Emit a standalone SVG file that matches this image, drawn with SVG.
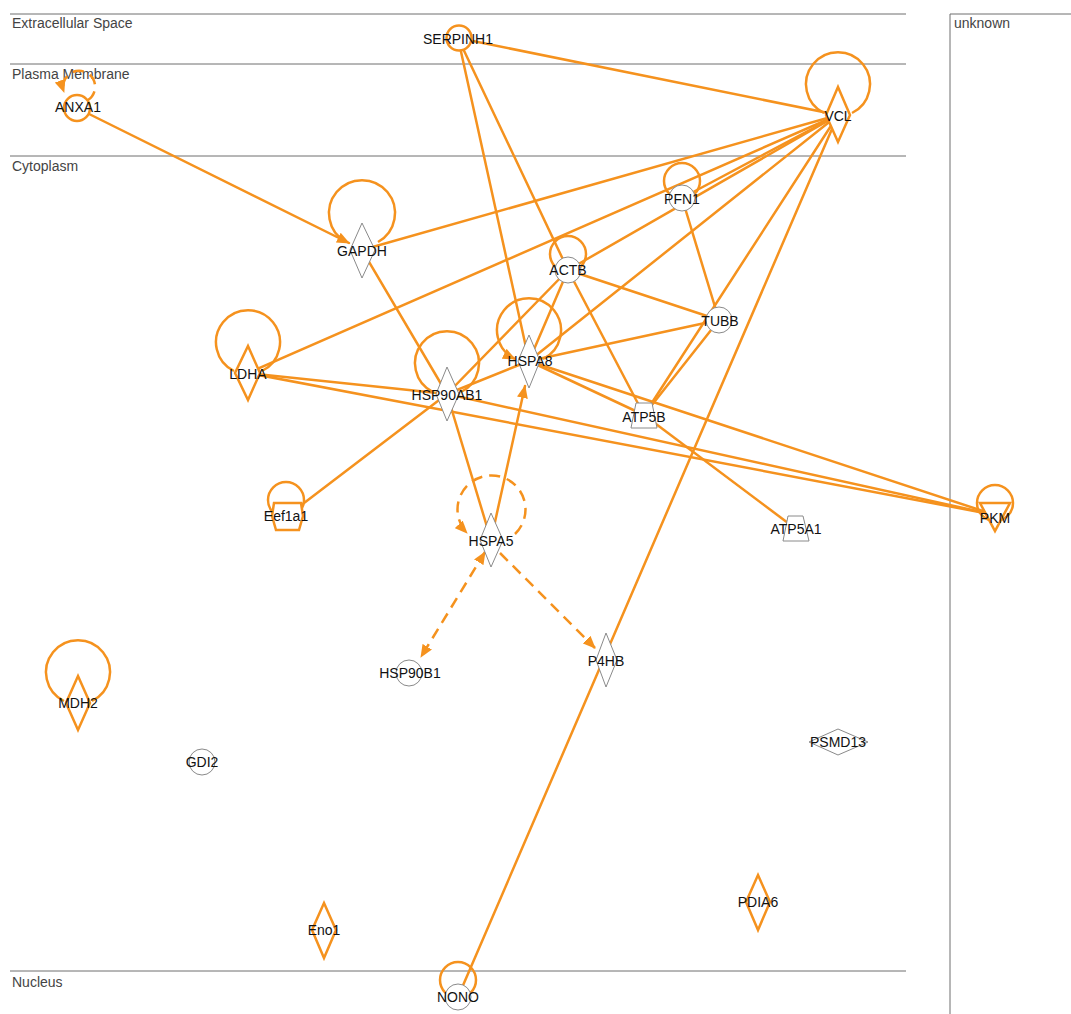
<svg xmlns="http://www.w3.org/2000/svg" width="1071" height="1014" viewBox="0 0 1071 1014">
<defs>
<marker id="arr" viewBox="0 0 13 11" refX="12" refY="5.5" markerWidth="13" markerHeight="11" markerUnits="userSpaceOnUse" orient="auto-start-reverse">
<path d="M0,0 L13,5.5 L0,11 z" fill="#F5921E" stroke="none"/>
</marker>
</defs>
<style>
.comp{stroke:#6e6e6e;stroke-width:1;fill:none}
.ctext{font-family:"Liberation Sans",Arial,sans-serif;font-size:14px;fill:#444}
.e{stroke:#F5921E;stroke-width:2.5;fill:none;stroke-linecap:round}
.d{stroke:#F5921E;stroke-width:2.5;fill:none;stroke-dasharray:11 7}
.loop{stroke:#F5921E;stroke-width:2.5;fill:none}
.og{stroke:#F5921E;stroke-width:2.5;fill:#fff}
.gy{stroke:#8a8a8a;stroke-width:1;fill:#fff}
.lbl{font-family:"Liberation Sans",Arial,sans-serif;font-size:14px;fill:#111;text-anchor:middle}
</style>
<rect width="1071" height="1014" fill="#fff"/>
<g id="compartments">
<line class="comp" x1="10" y1="14" x2="906" y2="14"/>
<line class="comp" x1="10" y1="64" x2="906" y2="64"/>
<line class="comp" x1="10" y1="156" x2="906" y2="156"/>
<line class="comp" x1="10" y1="971" x2="906" y2="971"/>
<line class="comp" x1="950" y1="14" x2="1071" y2="14"/>
<line class="comp" x1="950" y1="14" x2="950" y2="1014"/>
<text class="ctext" x="12" y="28">Extracellular Space</text>
<text class="ctext" x="12" y="79">Plasma Membrane</text>
<text class="ctext" x="12" y="171">Cytoplasm</text>
<text class="ctext" x="12" y="987">Nucleus</text>
<text class="ctext" x="954" y="28">unknown</text>
</g>
<g id="connectors">
<line class="e" x1="458" y1="38" x2="838" y2="115"/>
<line class="e" x1="458" y1="38" x2="568" y2="270"/>
<line class="e" x1="458" y1="38" x2="529" y2="361"/>
<line class="e" x1="362" y1="250" x2="838" y2="115"/>
<line class="e" x1="362" y1="250" x2="447" y2="394"/>
<line class="e" x1="248" y1="373" x2="838" y2="115"/>
<line class="e" x1="248" y1="373" x2="995" y2="515"/>
<line class="e" x1="248" y1="373" x2="447" y2="394"/>
<line class="e" x1="682" y1="198" x2="838" y2="115"/>
<line class="e" x1="682" y1="198" x2="719" y2="320"/>
<line class="e" x1="568" y1="270" x2="838" y2="115"/>
<line class="e" x1="568" y1="270" x2="719" y2="320"/>
<line class="e" x1="568" y1="270" x2="644" y2="415"/>
<line class="e" x1="568" y1="270" x2="447" y2="394"/>
<line class="e" x1="568" y1="270" x2="529" y2="361"/>
<line class="e" x1="529" y1="361" x2="719" y2="320"/>
<line class="e" x1="529" y1="361" x2="995" y2="515"/>
<line class="e" x1="529" y1="361" x2="838" y2="115"/>
<line class="e" x1="529" y1="361" x2="644" y2="415"/>
<line class="e" x1="447" y1="394" x2="529" y2="361"/>
<line class="e" x1="447" y1="394" x2="995" y2="515"/>
<line class="e" x1="447" y1="394" x2="491" y2="540"/>
<line class="e" x1="644" y1="415" x2="838" y2="115"/>
<line class="e" x1="644" y1="415" x2="719" y2="320"/>
<line class="e" x1="644" y1="415" x2="796" y2="529"/>
<line class="e" x1="838" y1="115" x2="458" y2="997"/>
<line class="e" x1="287" y1="516" x2="447" y2="394"/>
<line class="e" x1="77" y1="108" x2="349" y2="243" marker-end="url(#arr)"/>
<line class="e" x1="491" y1="540" x2="525" y2="386" marker-end="url(#arr)"/>
<line class="d" x1="485" y1="552" x2="421" y2="657" marker-start="url(#arr)" marker-end="url(#arr)"/>
<line class="d" x1="500" y1="553" x2="595" y2="648" marker-end="url(#arr)"/>
<path class="d" d="M88 100 A16 16 0 1 0 64 92" stroke-dasharray="9 5" marker-end="url(#arr)"/>
</g>
<g id="loops">
<path class="loop" d="M824 113 A32 32 0 1 1 852 113"/>
<path class="loop" d="M346 242 A33 33 0 1 1 378 242"/>
<path class="loop" d="M234 371 A32 32 0 1 1 262 371"/>
<path class="loop" d="M433 392 A32 32 0 1 1 461 392"/>
<path class="loop" d="M543 359 A32 32 0 1 0 515 359" marker-end="url(#arr)"/>
<path class="loop" d="M64 701 A32 32 0 1 1 92 701"/>
<path class="d" d="M515 534 A34 34 0 1 0 467 533" marker-end="url(#arr)"/>
<circle class="loop" cx="682" cy="181" r="18"/>
<circle class="loop" cx="568" cy="254" r="18"/>
<circle class="loop" cx="286" cy="500" r="18"/>
<circle class="loop" cx="995" cy="503" r="18"/>
<circle class="loop" cx="458" cy="980" r="18"/>
</g>
<g id="ANXA1"><circle class="og" cx="77" cy="108" r="13"/><text class="lbl" x="78" y="112">ANXA1</text></g>
<g id="SERPINH1"><circle class="og" cx="459" cy="38" r="12.5"/><text class="lbl" x="458" y="44">SERPINH1</text></g>
<g id="VCL"><polygon class="og" points="838,87 850,115 838,142 826,115"/><text class="lbl" x="838" y="121">VCL</text></g>
<g id="GAPDH"><polygon class="gy" points="362,223 375,250 362,278 350,250"/><text class="lbl" x="362" y="256">GAPDH</text></g>
<g id="PFN1"><circle class="gy" cx="682" cy="198" r="13"/><text class="lbl" x="682" y="204">PFN1</text></g>
<g id="ACTB"><circle class="gy" cx="568" cy="270" r="13"/><text class="lbl" x="568" y="275">ACTB</text></g>
<g id="TUBB"><circle class="gy" cx="719" cy="320" r="13"/><text class="lbl" x="720" y="326">TUBB</text></g>
<g id="LDHA"><polygon class="og" points="248,346 260,373 248,400 235,373"/><text class="lbl" x="248" y="379">LDHA</text></g>
<g id="HSPA8"><polygon class="gy" points="529,335 540,361 529,388 518,361"/><text class="lbl" x="530" y="366">HSPA8</text></g>
<g id="HSP90AB1"><polygon class="gy" points="447,367 459,394 447,421 436,394"/><text class="lbl" x="447" y="400">HSP90AB1</text></g>
<g id="ATP5B"><polygon class="gy" points="636,403 652,403 657,428 631,428"/><text class="lbl" x="644" y="422">ATP5B</text></g>
<g id="ATP5A1"><polygon class="gy" points="788,516 803,516 809,541 783,541"/><text class="lbl" x="796" y="534">ATP5A1</text></g>
<g id="PKM"><polygon class="og" points="980,503 1010,503 995,531"/><text class="lbl" x="995" y="523">PKM</text></g>
<g id="Eef1a1"><polygon class="og" points="274,503 301,503 303,516 299,530 276,530 272,516"/><text class="lbl" x="286" y="521">Eef1a1</text></g>
<g id="HSPA5"><polygon class="gy" points="491,513 503,540 491,567 480,540"/><text class="lbl" x="491" y="546">HSPA5</text></g>
<g id="HSP90B1"><circle class="gy" cx="409" cy="673" r="13"/><text class="lbl" x="410" y="678">HSP90B1</text></g>
<g id="P4HB"><polygon class="gy" points="606,633 617,660 606,687 596,660"/><text class="lbl" x="606" y="666">P4HB</text></g>
<g id="MDH2"><polygon class="og" points="78,676 90,703 78,730 66,703"/><text class="lbl" x="78" y="708">MDH2</text></g>
<g id="GDI2"><circle class="gy" cx="202" cy="762" r="13"/><text class="lbl" x="202" y="767">GDI2</text></g>
<g id="PSMD13"><polygon class="gy" points="809,742 838,729 868,742 838,755"/><text class="lbl" x="838" y="747">PSMD13</text></g>
<g id="PDIA6"><polygon class="og" points="758,875 770,902 758,930 746,902"/><text class="lbl" x="758" y="907">PDIA6</text></g>
<g id="Eno1"><polygon class="og" points="324,903 336,930 324,958 312,930"/><text class="lbl" x="324" y="935">Eno1</text></g>
<g id="NONO"><circle class="gy" cx="458" cy="997" r="13"/><text class="lbl" x="458" y="1002">NONO</text></g>
</svg>
